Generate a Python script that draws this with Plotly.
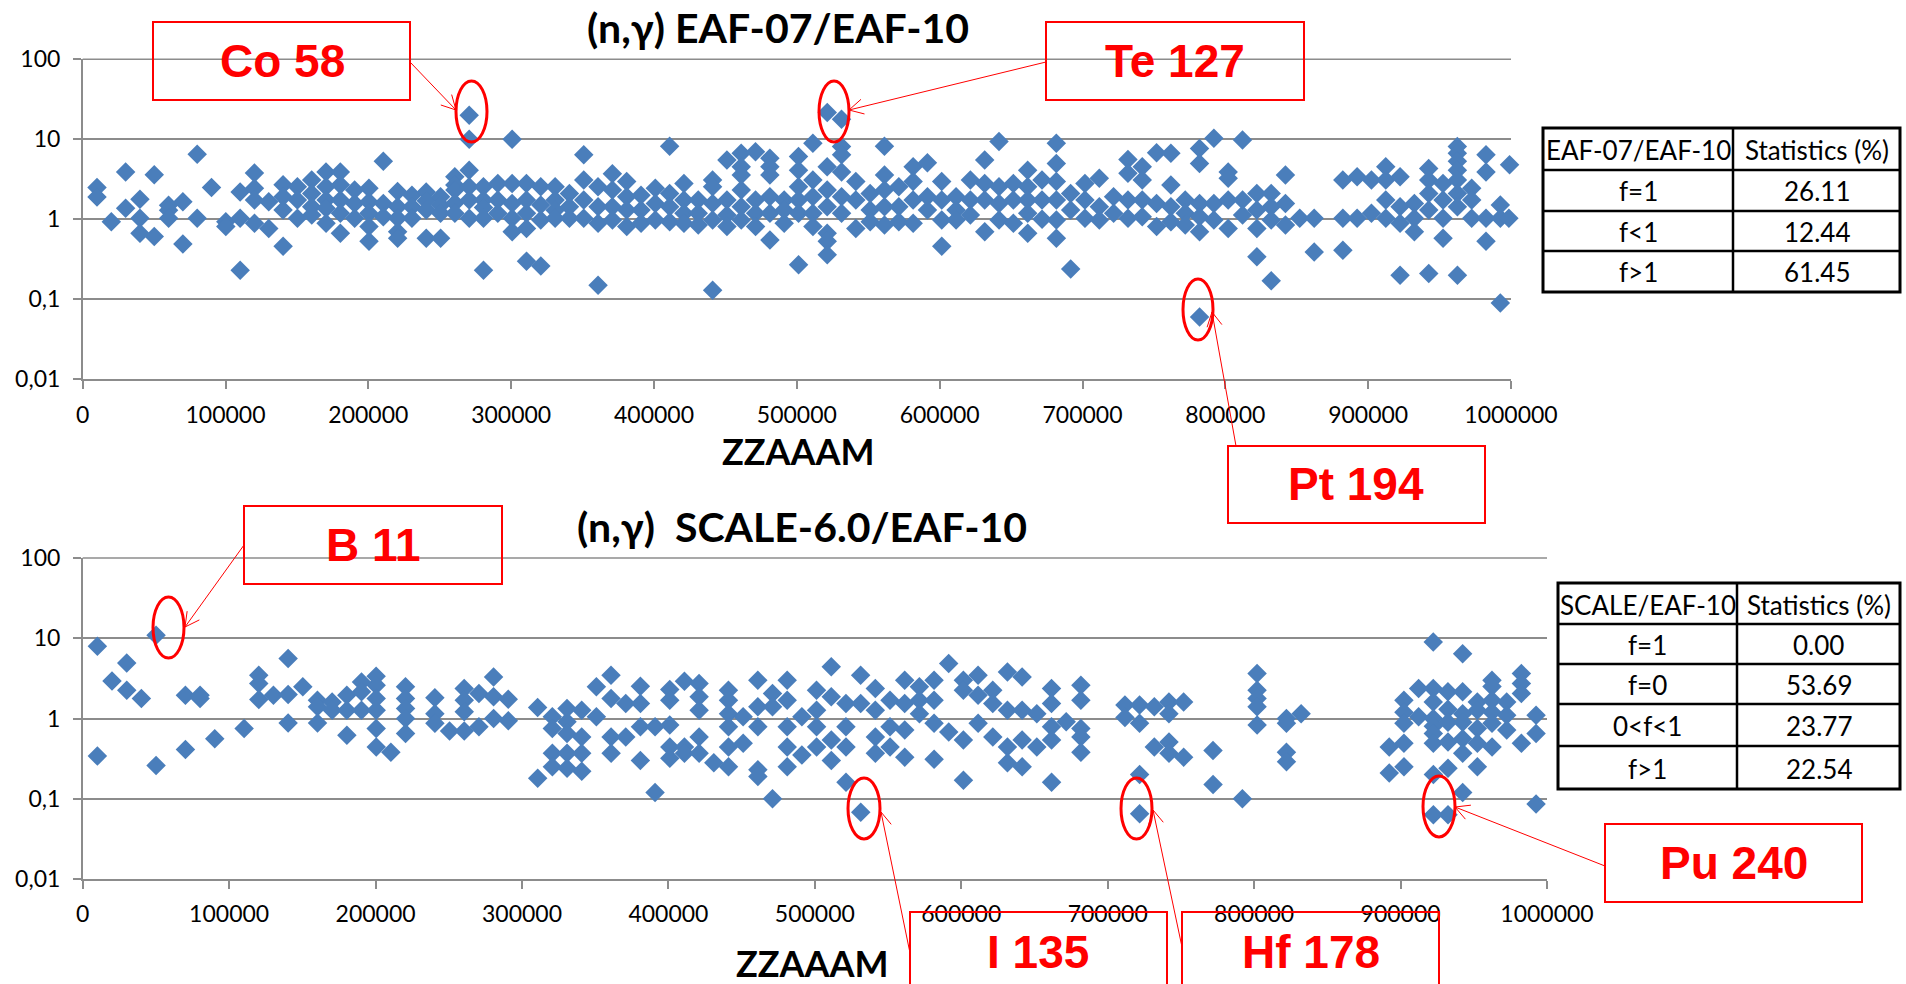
import math
import html
import plotly.graph_objects as go

W, H = 1906, 984

# ---------------- data ----------------
top_zzaaam = [
    10010, 10020, 20040, 30060, 30070, 40070, 40090, 40100, 50100, 50110,
    60120, 60130, 60140, 70140, 70150, 80160, 80170, 90190, 100200, 100210,
    110220, 110230, 110240, 120240, 120250, 120260, 120270, 130270, 130280,
    140280, 140290, 140300, 140310, 150310, 150320, 150330,
    160320, 160330, 160340, 160350, 170350, 170360, 170370, 170380, 170390,
    180360, 180370, 180380, 180390, 180400, 190390, 190400, 190410,
    200400, 200410, 200420, 200430, 200440, 210450, 210460, 210470,
    220460, 220470, 220480, 220490, 220500, 230500, 230510, 230520,
    240500, 240510, 240520, 240530, 250550, 250560, 250570, 250580,
    260540, 260550, 260560, 260570, 260580,
    270580, 270590, 270600, 270610, 270620, 270630,
    280580, 280590, 280600, 280610, 280620, 290630, 290640, 290650,
    300640, 300650, 300660, 300670, 300680, 310690, 310700, 310710, 310720, 310730,
    320700, 320710, 320720, 320730, 330750, 330760, 330770, 330780,
    340760, 340770, 340780, 350790, 350800, 350810, 350820,
    360800, 360810, 360820, 360830, 370850, 370860, 370870, 370880,
    380860, 380870, 380880, 380890, 390890, 390900, 390910, 400900, 400910, 400920,
    410930, 410940, 410950, 410960, 420940, 420950, 420960, 420970, 430970, 430980, 430990,
    441000, 441010, 441020, 441030, 441040, 451030, 451040, 451050, 451060,
    461040, 461050, 461060, 461070, 461080, 461090, 471070, 471080, 471090, 471100,
    481100, 481110, 481120, 481130, 481140, 481150, 491130, 491140, 491150,
    501140, 501150, 501160, 501170, 501180, 501190, 511210, 511220, 511230, 511240, 511250,
    521270, 521220, 521230, 521240, 521250, 521260, 521280,
    531270, 531280, 531290, 531300, 531310, 531320,
    541280, 541290, 541300, 551330, 551340, 551350,
    561340, 561350, 561360, 561370, 561380, 571390, 571400, 571410,
    581400, 581410, 581420, 581430, 591410, 591420, 591430,
    601420, 601430, 601440, 601450, 611470, 611480, 611490, 621480, 621490, 621500,
    631510, 631520, 631530, 631540, 641540, 641550, 641560, 641570,
    651590, 651600, 651610, 661600, 661610, 661620, 661630, 661640,
    671650, 671660, 671670, 681660, 681670, 681680, 681690, 681700, 681710,
    691690, 691700, 691710, 701700, 701710, 701720, 711750, 711760, 711770,
    721760, 721770, 731810, 731820, 731830, 731840, 741820, 741830, 741840, 741850,
    751850, 751860, 751870, 761860, 761870, 761880, 761890, 771910, 771920, 771930,
    781940, 781920, 781930, 781950, 781960, 781970, 791970, 791980, 791990,
    801980, 801990, 802000, 802010, 812030, 812040, 812050,
    822040, 822050, 822060, 822070, 832090, 832100, 832110, 832120,
    842080, 842090, 842100, 852100, 862220, 862230,
    882260, 882270, 882280, 892270, 892280, 902280, 902290,
    912310, 912320, 912330, 912340, 922320, 922330, 922340, 922350,
    932350, 932360, 932370, 942380, 942390, 942400, 942410, 942420,
    952410, 952420, 952430, 952440,
    962420, 962430, 962440, 962450, 962460, 962470, 962480, 962490,
    972470, 972480, 972490, 982490, 982500, 982510, 982520,
    992520, 992530, 992540, 999000, 998500,
]
top_ratio = [
    2.5, 1.9, 0.93, 3.9, 1.37, 1.78, 1.03, 0.67, 3.6, 0.61,
    1.5, 1.3, 1.03, 1.66, 0.49, 6.5, 1.03, 2.5, 0.93, 0.81,
    2.2, 1.03, 0.23, 3.8, 2.44, 1.74, 0.89, 1.66, 0.77,
    2.7, 1.92, 1.31, 0.46, 2.56, 1.74, 1.03,
    3.1, 2.1, 1.44, 1.13, 3.9, 2.56, 1.74, 1.37, 0.89,
    3.9, 2.7, 1.74, 1.19, 0.67, 2.33, 1.58, 1.03,
    2.44, 1.66, 1.19, 0.81, 0.53, 5.3, 1.58, 1.08,
    2.22, 1.44, 1.03, 0.70, 0.58, 2.0, 1.44, 1.03,
    2.2, 1.7, 1.31, 0.58, 1.92, 1.5, 1.19, 0.58,
    3.4, 2.69, 2.33, 1.6, 1.19,
    20.0, 10.0, 4.1, 2.56, 1.74, 1.03,
    2.56, 1.74, 1.4, 1.03, 0.23, 2.8, 1.74, 1.19,
    10.0, 2.8, 1.58, 1.03, 0.70, 2.8, 1.74, 1.19, 0.77, 0.30,
    2.56, 1.51, 0.98, 0.26, 2.56, 1.74, 1.3, 1.03,
    2.1, 1.44, 1.03, 6.4, 3.1, 1.74, 1.03,
    2.56, 1.44, 0.89, 0.15, 3.7, 2.33, 1.44, 0.98,
    2.96, 1.92, 1.31, 0.81, 2.0, 1.31, 0.89, 2.44, 1.58, 0.98,
    8.2, 2.1, 1.44, 0.93, 2.8, 1.74, 1.19, 0.89, 1.74, 1.19, 0.85,
    3.1, 2.56, 1.58, 0.98, 0.13, 5.5, 1.74, 1.13, 0.81,
    6.7, 4.55, 3.58, 2.33, 1.44, 0.98, 7.0, 1.74, 1.19, 0.81,
    5.8, 4.55, 3.58, 1.92, 1.19, 0.55, 1.74, 1.31, 0.89,
    6.1, 4.1, 2.56, 1.74, 1.19, 0.27, 8.9, 3.1, 1.92, 1.19, 0.81,
    21.6, 4.55, 2.33, 1.44, 0.67, 0.53, 0.36,
    17.8, 8.1, 6.4, 3.9, 1.92, 1.19,
    2.96, 1.74, 0.77, 2.1, 1.31, 0.93,
    8.2, 3.58, 2.33, 1.44, 0.85, 2.56, 1.44, 0.93,
    4.55, 2.96, 1.74, 0.89, 5.1, 1.92, 1.31,
    2.96, 1.74, 0.98, 0.46, 1.92, 1.31, 0.98, 3.1, 1.74, 1.13,
    5.5, 2.8, 1.74, 0.70, 9.4, 2.56, 1.58, 0.98,
    2.8, 1.74, 0.89, 4.1, 2.56, 1.74, 1.19, 0.67,
    3.1, 1.74, 1.0, 8.9, 5.0, 2.96, 1.74, 0.98, 0.58,
    2.1, 1.31, 0.24, 2.8, 1.74, 1.03, 3.25, 1.44, 0.98,
    1.92, 1.19, 5.6, 3.76, 1.74, 1.03, 4.55, 3.1, 1.74, 1.08,
    6.8, 1.58, 0.81, 6.7, 2.69, 1.44, 0.93, 1.74, 1.19, 0.85,
    0.06, 7.7, 5.0, 1.58, 1.08, 0.70, 10.3, 1.58, 0.98,
    3.9, 3.25, 1.74, 0.77, 9.8, 1.74, 1.13,
    2.1, 1.31, 0.77, 0.34, 2.1, 1.44, 0.98, 0.17,
    3.58, 1.58, 0.85, 1.03, 1.03, 0.39,
    3.1, 1.03, 0.41, 3.4, 1.03, 3.1, 1.19,
    4.55, 3.1, 1.74, 1.03, 3.4, 1.44, 0.89, 0.20,
    1.58, 1.03, 0.70, 4.3, 3.1, 2.1, 1.31, 0.21,
    2.8, 1.74, 1.03, 0.58,
    8.1, 6.7, 5.3, 4.1, 3.1, 2.1, 1.44, 0.20,
    2.44, 1.74, 1.03, 6.4, 3.9, 1.03, 0.53,
    1.51, 1.03, 0.09, 4.8, 1.03,
]

bottom_zzaaam = [
    10010, 10020, 20030, 30060, 30070, 40090, 50110, 50100, 70140, 70150,
    80160, 80170, 90190, 110230, 120240, 120250, 120260, 130270,
    140280, 140290, 140300, 150310, 160320, 160330, 160340, 170350, 170370,
    180360, 180380, 180400, 190390, 190400, 190410,
    200400, 200410, 200420, 200430, 200440, 200460, 210450,
    220460, 220470, 220480, 220490, 220500, 240500, 240520, 240530, 250550,
    260540, 260560, 260570, 260580, 270590, 270600, 280580, 280600, 280620,
    290630, 290650, 310690, 310710, 320700, 320720, 320740, 320760,
    330750, 330740, 330760, 330770, 330780, 340760, 340770, 340780, 340800,
    350790, 350810, 360800, 360820, 360840, 360860, 370850, 370870,
    380860, 380880, 380900, 380840, 390890, 390900,
    400900, 400910, 400920, 400940, 400960, 410930, 410940, 410950,
    420940, 420950, 420960, 420970, 420980, 430990,
    441000, 441010, 441020, 441030, 441040, 441050, 451030, 451050,
    461040, 461060, 461080, 461090, 461100, 471070, 471080, 471100,
    481100, 481110, 481120, 481130, 481140, 491130, 491150,
    501140, 501160, 501180, 501200, 511210, 511220, 511230, 511240,
    521220, 521240, 521260, 521280, 531270, 531300, 531350,
    541280, 541300, 541320, 541340, 551330, 551340, 551350,
    561340, 561360, 561380, 561400, 571390, 571400, 571410,
    581400, 581410, 581420, 581440, 591410, 591430,
    601420, 601430, 601440, 601460, 611470, 611480, 611490,
    621480, 621500, 621520, 631510, 631520, 631530, 631540,
    641540, 641550, 641560, 641580, 651590, 651600,
    661600, 661610, 661620, 661640, 661660, 671650,
    681660, 681670, 681680, 681690, 681700, 711750, 711760,
    721760, 721770, 721790, 721780, 731810, 731820,
    741820, 741830, 741840, 741860, 751850, 751870, 771910, 771930, 791970,
    801980, 801990, 802000, 802010, 802020, 822040, 822050, 822060, 822080, 832090,
    892250, 892270, 902280, 902290, 902300, 902310, 902320, 912310, 912330,
    922320, 922330, 922340, 922350, 922360, 922370, 922380, 922390, 922400,
    932350, 932360, 932370, 932380, 932390, 932400,
    942380, 942390, 942400, 942410, 942420, 942430, 942440,
    952410, 952420, 952430, 952440, 952450,
    962420, 962430, 962440, 962450, 962460, 962470,
    972470, 972480, 972490, 982490, 982500, 982510, 982520,
    992520, 992530, 992540,
]
bottom_ratio = [
    7.96, 0.34, 2.94, 4.93, 2.25, 1.77, 10.9, 0.26, 1.95, 0.41,
    1.95, 1.77, 0.56, 0.75, 3.46, 2.73, 1.72, 1.95,
    5.58, 1.99, 0.88, 2.48, 1.69, 1.40, 0.88, 1.61, 1.27,
    1.95, 1.27, 0.62, 2.86, 2.15, 1.27,
    3.36, 2.6, 1.77, 1.27, 0.75, 0.44, 0.38,
    2.48, 1.77, 1.33, 1.0, 0.65, 1.81, 1.15, 0.87, 0.70,
    2.36, 1.69, 1.21, 0.70, 2.05, 0.79, 3.30, 1.86, 1.0,
    1.74, 0.94, 1.37, 0.18, 1.05, 0.75, 0.37, 0.25,
    1.33, 0.91, 0.65, 0.37, 0.24, 1.27, 0.59, 0.37, 0.22,
    2.48, 1.05, 3.46, 1.77, 0.59, 0.37, 1.54, 0.59,
    2.53, 1.54, 0.79, 0.30, 0.79, 0.12,
    2.3, 1.69, 0.83, 0.44, 0.32, 2.92, 0.44, 0.37,
    2.73, 1.86, 1.27, 0.59, 0.37, 0.28,
    2.25, 1.69, 1.15, 0.79, 0.44, 0.25, 1.05, 0.49,
    3.0, 1.40, 0.79, 0.23, 0.19, 2.05, 1.40, 0.10,
    3.0, 1.69, 0.79, 0.44, 0.25, 1.05, 0.35,
    2.25, 1.27, 0.79, 0.44, 4.4, 1.86, 0.54, 0.30,
    1.54, 0.79, 0.44, 0.16, 3.46, 1.54, 0.068,
    2.36, 1.27, 0.59, 0.37, 1.69, 0.79, 0.44,
    3.0, 1.54, 0.72, 0.33, 2.48, 1.69, 1.15,
    3.0, 1.69, 0.87, 0.31, 4.83, 0.68,
    3.0, 2.25, 0.54, 0.17, 3.46, 1.95, 0.87,
    2.25, 1.54, 0.59, 3.8, 1.27, 0.44, 0.28,
    3.3, 1.27, 0.54, 0.25, 1.15, 0.44,
    2.36, 1.54, 0.79, 0.54, 0.16, 0.91,
    2.6, 1.69, 0.75, 0.59, 0.38, 1.47, 1.03,
    1.47, 0.87, 0.20, 0.065, 1.40, 0.44,
    1.61, 1.15, 0.51, 0.37, 1.61, 0.33, 0.40, 0.15, 0.10,
    3.63, 2.25, 1.77, 1.40, 0.83, 1.0, 0.87, 0.38, 0.29, 1.15,
    0.44, 0.21, 1.69, 1.2, 0.87, 0.49, 0.25, 2.36, 1.05,
    9.0, 2.36, 1.61, 1.0, 0.8, 0.65, 0.49, 0.20, 0.063,
    2.15, 1.3, 0.9, 0.51, 0.24, 0.063,
    6.43, 2.15, 1.15, 0.9, 0.56, 0.37, 0.12,
    1.6, 1.27, 0.75, 0.49, 0.25,
    3.0, 2.5, 1.69, 1.2, 0.87, 0.44,
    1.6, 1.10, 0.72, 3.63, 2.73, 2.05, 0.49,
    1.10, 0.65, 0.086,
]

x_tickvals = [0, 100000, 200000, 300000, 400000, 500000, 600000, 700000, 800000, 900000, 1000000]
x_ticktext = ["0", "100000", "200000", "300000", "400000", "500000", "600000", "700000", "800000", "900000", "1000000"]
y_tickvals = [0.01, 0.1, 1, 10, 100]
y_ticktext = ["0,01", "0,1", "1", "10", "100"]

top_title = "(n,γ) EAF-07/EAF-10"
bottom_title = "(n,γ)\u00a0 SCALE-6.0/EAF-10"
x_title = "ZZAAAM"

top_table_header = ["EAF-07/EAF-10", "Statistics (%)"]
top_table_labels = ["f=1", "f<1", "f>1"]
top_table_values = ["26.11", "12.44", "61.45"]
bottom_table_header = ["SCALE/EAF-10", "Statistics (%)"]
bottom_table_labels = ["f=1", "f=0", "0<f<1", "f>1"]
bottom_table_values = ["0.00", "53.69", "23.77", "22.54"]

callout_labels = ["Co 58", "Te 127", "Pt 194", "B 11", "I 135", "Hf 178", "Pu 240"]

assert len(top_zzaaam) == len(top_ratio)
assert len(bottom_zzaaam) == len(bottom_ratio)


def fx(x):
    return x / W


def fy(y):
    return 1 - y / H


BLUE = "#4A7EBB"
GRID = "#8C8C8C"
RED = "#FF0000"
FONT = "Lato"

fig = go.Figure()
fig.add_trace(go.Scatter(x=top_zzaaam, y=top_ratio, mode="markers", xaxis="x", yaxis="y",
                         marker=dict(symbol="diamond", size=15, color=BLUE, line=dict(width=0)),
                         cliponaxis=False, showlegend=False))
fig.add_trace(go.Scatter(x=bottom_zzaaam, y=bottom_ratio, mode="markers", xaxis="x2", yaxis="y2",
                         marker=dict(symbol="diamond", size=15, color=BLUE, line=dict(width=0)),
                         cliponaxis=False, showlegend=False))


def xaxis_cfg(domain, anchor):
    return dict(domain=domain, anchor=anchor, range=[0, 1000000], tickvals=x_tickvals,
                ticktext=x_ticktext, showgrid=False, zeroline=False, showline=True,
                linecolor=GRID, linewidth=1.5, ticks="outside", ticklen=8, tickwidth=1.5,
                tickcolor=GRID, tickfont=dict(family=FONT, size=23, color="#000"),
                ticklabelstandoff=6, automargin=False)


def yaxis_cfg(domain, anchor):
    return dict(domain=domain, anchor=anchor, type="log", range=[-2, 2], tickvals=y_tickvals,
                ticktext=y_ticktext, showgrid=True, gridcolor=GRID, gridwidth=1.5,
                zeroline=False, showline=True, linecolor=GRID, linewidth=1.5,
                ticks="outside", ticklen=8, tickwidth=1.5, tickcolor=GRID,
                tickfont=dict(family=FONT, size=23, color="#000"), ticklabelstandoff=8,
                automargin=False)


shapes = []
annotations = []

for (xl, xr, yline) in [(82.7, 1511, 59.3), (82.7, 1547, 558)]:
    shapes.append(dict(type="line", xref="paper", yref="paper", x0=fx(xl), x1=fx(xr),
                       y0=fy(yline), y1=fy(yline), line=dict(color=GRID, width=1.5), layer="below"))

for text, cx, cy, size in [(top_title, 778, 27, 41), (bottom_title, 802, 526, 41),
                           (x_title, 798, 451, 36), (x_title, 812, 963, 36)]:
    annotations.append(dict(text="<b>" + text + "</b>", x=fx(cx), y=fy(cy), xref="paper", yref="paper",
                            showarrow=False, xanchor="center", yanchor="middle",
                            font=dict(family=FONT, size=size, color="#000")))


def add_table(x0, x1, xdiv, ys, header, labels, values):
    shapes.append(dict(type="rect", xref="paper", yref="paper", x0=fx(x0), x1=fx(x1),
                       y0=fy(ys[-1]), y1=fy(ys[0]), line=dict(color="#000", width=3),
                       fillcolor="white", layer="above"))
    shapes.append(dict(type="line", xref="paper", yref="paper", x0=fx(xdiv), x1=fx(xdiv),
                       y0=fy(ys[-1]), y1=fy(ys[0]), line=dict(color="#000", width=2.5)))
    for yy in ys[1:-1]:
        shapes.append(dict(type="line", xref="paper", yref="paper", x0=fx(x0), x1=fx(x1),
                           y0=fy(yy), y1=fy(yy), line=dict(color="#000", width=2.5)))
    rows = [header] + [[a, b] for a, b in zip(labels, values)]
    for i, (a, b) in enumerate(rows):
        cy = (ys[i] + ys[i + 1]) / 2
        for txt, cx in [(a, (x0 + xdiv) / 2), (b, (xdiv + x1) / 2)]:
            annotations.append(dict(text=html.escape(txt), x=fx(cx), y=fy(cy + 1), xref="paper",
                                    yref="paper", showarrow=False, xanchor="center", yanchor="middle",
                                    font=dict(family=FONT, size=26, color="#000")))


add_table(1543, 1900, 1733, [128, 170, 211, 251, 292], top_table_header, top_table_labels, top_table_values)
add_table(1558, 1900, 1737, [583, 624, 664, 704, 746, 789], bottom_table_header, bottom_table_labels,
          bottom_table_values)

callout_geom = [
    ((153, 22, 410, 100), (282, 61), (456, 81, 487, 142), (410, 62), (456, 110)),
    ((1046, 22, 1304, 100), (1175, 61), (819, 81, 849, 142), (1046, 62), (849, 110)),
    ((1228, 446, 1485, 523), (1356, 484), (1183, 279, 1213, 340), (1236, 446), (1212, 312)),
    ((244, 506, 502, 584), (373, 545), (153, 597, 184, 658), (244, 545), (185, 627)),
    ((910, 912, 1167, 984), (1038, 952), (848, 778, 880, 839), (910, 953), (881, 812)),
    ((1182, 912, 1439, 984), (1311, 952), (1121, 778, 1152, 839), (1182, 947), (1153, 810)),
    ((1605, 824, 1862, 902), (1734, 863), (1423, 776, 1455, 837), (1605, 866), (1455, 807)),
]

for label, (box, tc, ell, tail, tip) in zip(callout_labels, callout_geom):
    if box[3] >= H:
        # box runs off the bottom of the page: draw only its left, top and right sides
        path = "M {a},{b} L {a},{c} L {d},{c} L {d},{b}".format(a=fx(box[0]), b=fy(box[3]), c=fy(box[1]),
                                                               d=fx(box[2]))
        shapes.append(dict(type="path", xref="paper", yref="paper", path=path, line=dict(color=RED, width=2)))
    else:
        shapes.append(dict(type="rect", xref="paper", yref="paper", x0=fx(box[0]), x1=fx(box[2]),
                           y0=fy(box[3]), y1=fy(box[1]), line=dict(color=RED, width=2)))
    shapes.append(dict(type="circle", xref="paper", yref="paper", x0=fx(ell[0]), x1=fx(ell[2]),
                       y0=fy(ell[3]), y1=fy(ell[1]), line=dict(color=RED, width=3)))
    shapes.append(dict(type="line", xref="paper", yref="paper", x0=fx(tail[0]), x1=fx(tip[0]),
                       y0=fy(tail[1]), y1=fy(tip[1]), line=dict(color=RED, width=1)))
    ang = math.atan2(tip[1] - tail[1], tip[0] - tail[0])
    for s in (-1, 1):
        a = ang + s * math.radians(28)
        hx = tip[0] - 16 * math.cos(a)
        hy = tip[1] - 16 * math.sin(a)
        shapes.append(dict(type="line", xref="paper", yref="paper", x0=fx(tip[0]), x1=fx(hx),
                           y0=fy(tip[1]), y1=fy(hy), line=dict(color=RED, width=1)))
    annotations.append(dict(text="<b>" + label + "</b>", x=fx(tc[0]), y=fy(tc[1]), xref="paper",
                            yref="paper", showarrow=False, xanchor="center", yanchor="middle",
                            font=dict(family="Liberation Sans, Arial", size=46, color=RED)))

fig.update_layout(
    width=W, height=H, margin=dict(l=0, r=0, t=0, b=0, autoexpand=False),
    paper_bgcolor="white", plot_bgcolor="white", showlegend=False,
    xaxis=xaxis_cfg([fx(82.7), fx(1511)], "y"),
    yaxis=yaxis_cfg([fy(379.3), fy(59.3)], "x"),
    xaxis2=xaxis_cfg([fx(82.7), fx(1547)], "y2"),
    yaxis2=yaxis_cfg([fy(879), fy(558)], "x2"),
    shapes=shapes, annotations=annotations,
)

fig.write_html("out.html")
